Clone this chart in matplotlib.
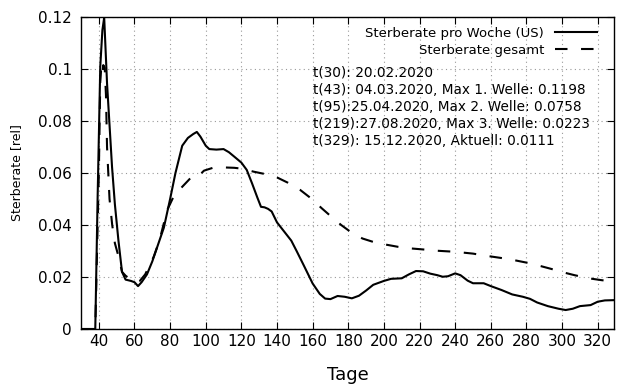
import matplotlib
matplotlib.use("Agg")
import matplotlib.pyplot as plt
from matplotlib.ticker import FuncFormatter

# weekly death rate (US)
tage_woche = [30, 37.5, 38, 39.3, 40.8, 42, 43, 44.6, 47.4, 49, 51, 53, 55, 58,
              60, 62, 64, 67, 70, 73, 76.5, 80, 83, 86.8, 90, 93, 95, 97, 100,
              102, 106, 110, 113, 116, 120, 123, 126, 129, 131, 133, 135, 137,
              140, 144, 148, 151, 155, 160, 164, 167, 170, 174, 178, 182, 186,
              190, 194, 200, 204, 210, 214, 218, 222, 226, 230, 233, 236, 240,
              243, 247, 250, 256, 260, 266, 272, 278, 282, 286, 292, 298, 302,
              306, 310, 316, 320, 324, 329]
rate_woche = [0, 0, 0, 0.05, 0.101, 0.115, 0.1198, 0.0945, 0.0624, 0.048,
              0.034, 0.022, 0.019, 0.0185, 0.018, 0.0165, 0.018, 0.021, 0.026,
              0.032, 0.039, 0.05, 0.06, 0.0705, 0.0735, 0.075, 0.0758, 0.074,
              0.0705, 0.0692, 0.069, 0.0692, 0.068, 0.0663, 0.064, 0.0612,
              0.056, 0.0505, 0.047, 0.0468, 0.0462, 0.0452, 0.041, 0.0375,
              0.034, 0.030, 0.0245, 0.0175, 0.0135, 0.0117, 0.0115, 0.0127,
              0.0124, 0.0118, 0.0128, 0.0148, 0.017, 0.0185, 0.0193, 0.0195,
              0.021, 0.0223, 0.0222, 0.0213, 0.0207, 0.0201, 0.0203, 0.0214,
              0.0207, 0.0186, 0.0176, 0.0176, 0.0165, 0.015, 0.0133, 0.0124,
              0.0116, 0.0102, 0.0088, 0.0078, 0.0073, 0.0078, 0.0088, 0.0092,
              0.0105, 0.011, 0.0111]

# cumulative death rate
tage_gesamt = [30, 38, 39, 40, 40.8, 41.3, 41.8, 42.5, 43.3, 44, 44.6, 46,
               47.5, 49, 51, 53, 55, 58, 61, 63, 66, 70.8, 74, 78.4, 82, 86.8,
               90, 93, 96.5, 99, 104, 108, 112, 116, 120, 127, 134, 140, 146,
               153, 159, 165, 170, 176, 182, 188, 194, 200, 208, 215, 222, 230,
               240, 250, 258, 266, 273, 281, 288, 294, 300, 307, 315, 322, 329]
rate_gesamt = [0, 0, 0.03, 0.06, 0.095, 0.1, 0.0975, 0.1015, 0.1005, 0.09,
               0.07, 0.05, 0.04, 0.033, 0.028, 0.022, 0.0205, 0.019, 0.018,
               0.0185, 0.021, 0.0278, 0.034, 0.0458, 0.051, 0.0547, 0.057,
               0.0592, 0.0592, 0.0609, 0.062, 0.0622, 0.0621, 0.062, 0.0617,
               0.0605, 0.0595, 0.0583, 0.0563, 0.0535, 0.0503, 0.0465, 0.0435,
               0.040, 0.037, 0.0348, 0.0335, 0.0326, 0.0316, 0.031, 0.0306,
               0.0301, 0.0297, 0.029, 0.0281, 0.0273, 0.0265, 0.0254, 0.0242,
               0.0231, 0.0219, 0.0207, 0.0195, 0.0188, 0.0182]

info_lines = ["t(30): 20.02.2020",
              "t(43): 04.03.2020, Max 1. Welle: 0.1198",
              "t(95):25.04.2020, Max 2. Welle: 0.0758",
              "t(219):27.08.2020, Max 3. Welle: 0.0223",
              "t(329): 15.12.2020, Aktuell: 0.0111"]

fig = plt.figure(figsize=(6.4, 3.84), dpi=100)
ax = fig.add_axes([0.1266, 0.1432, 0.8324, 0.8125])

ax.plot(tage_woche, rate_woche, color='black', lw=1.5,
        label='Sterberate pro Woche (US)')
ax.plot(tage_gesamt, rate_gesamt, color='black', lw=1.5, dashes=(6, 6.5),
        label='Sterberate gesamt')

ax.set_xlim(30, 329)
ax.set_ylim(0, 0.12)
ax.set_xticks(range(40, 321, 20))
ax.set_yticks([0, 0.02, 0.04, 0.06, 0.08, 0.1, 0.12])
ax.yaxis.set_major_formatter(FuncFormatter(lambda v, p: '%g' % round(v, 3)))
ax.tick_params(direction='in', top=True, right=True, length=5, labelsize=11)
ax.tick_params(axis='y', pad=6.5)
ax.grid(True, linestyle=(0, (1, 3)), color='#999999', lw=0.8)
for s in ax.spines.values():
    s.set_linewidth(1.0)

ax.set_xlabel('Tage', fontsize=13, labelpad=12)
ax.set_ylabel('Sterberate [rel]', fontsize=9, labelpad=11)

leg = ax.legend(loc='upper right', bbox_to_anchor=(0.978, 0.985),
                frameon=False, markerfirst=False, fontsize=9.5,
                handlelength=3.2, borderaxespad=0, labelspacing=0.3)
# gnuplot style: right aligned legend labels
for col in leg._legend_handle_box.get_children():
    col.align = 'right'

ax.text(0.435, 0.845, "\n".join(info_lines), transform=ax.transAxes,
        fontsize=9.8, va='top', ha='left', linespacing=1.29)

fig.savefig('out.png', dpi=100)
